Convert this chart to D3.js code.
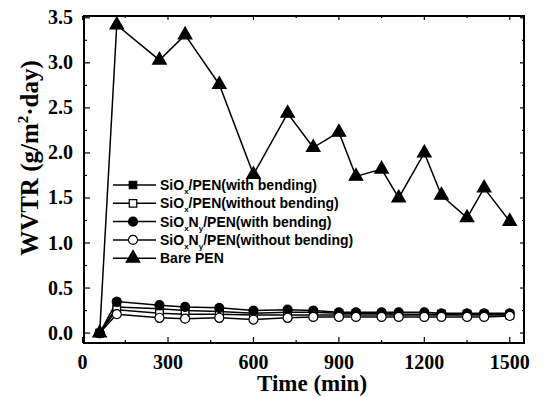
<!DOCTYPE html>
<html>
<head>
<meta charset="utf-8">
<script src="https://cdn.jsdelivr.net/npm/d3@7"></script>
<style>
  body { margin: 0; background: #fff; }
  svg { display: block; }
</style>
</head>
<body>
<div id="chart"></div>
<script>
// time points (min)
var times = [60, 120, 270, 360, 480, 600, 720, 810, 900, 960, 1050, 1110, 1200, 1260, 1350, 1410, 1500];

// WVTR values (g/m2.day)
var sioxBend     = [0, 0.29, 0.27, 0.25, 0.24, 0.22, 0.23, 0.23, 0.22, 0.22, 0.22, 0.21, 0.21, 0.21, 0.21, 0.21, 0.21];
var sioxNoBend   = [0, 0.26, 0.22, 0.21, 0.21, 0.20, 0.20, 0.20, 0.20, 0.20, 0.20, 0.20, 0.20, 0.20, 0.20, 0.20, 0.20];
var sionBend     = [0, 0.35, 0.31, 0.29, 0.28, 0.25, 0.26, 0.25, 0.23, 0.23, 0.23, 0.23, 0.23, 0.22, 0.22, 0.22, 0.22];
var sionNoBend   = [0, 0.21, 0.17, 0.16, 0.17, 0.15, 0.17, 0.18, 0.18, 0.18, 0.18, 0.18, 0.18, 0.18, 0.18, 0.18, 0.19];
var barePen      = [0, 3.42, 3.03, 3.31, 2.76, 1.76, 2.44, 2.06, 2.23, 1.74, 1.82, 1.50, 2.00, 1.53, 1.28, 1.61, 1.24];

var xTicks = [0, 300, 600, 900, 1200, 1500];
var yTicks = [0.0, 0.5, 1.0, 1.5, 2.0, 2.5, 3.0, 3.5];

var series = [
  { name: "SiOx/PEN(with bending)",      values: sioxBend,   sym: d3.symbolSquare,   fill: "#000" },
  { name: "SiOx/PEN(without bending)",   values: sioxNoBend, sym: d3.symbolSquare,   fill: "#fff" },
  { name: "SiOxNy/PEN(with bending)",    values: sionBend,   sym: d3.symbolCircle,   fill: "#000" },
  { name: "SiOxNy/PEN(without bending)", values: sionNoBend, sym: d3.symbolCircle,   fill: "#fff" },
  { name: "Bare PEN",                    values: barePen,    sym: d3.symbolTriangle, fill: "#000" }
];
// legend text pieces: [text, isSub]
var legendParts = [
  [["SiO", 0], ["x", 1], ["/PEN(with bending)", 0]],
  [["SiO", 0], ["x", 1], ["/PEN(without bending)", 0]],
  [["SiO", 0], ["x", 1], ["N", 0], ["y", 1], ["/PEN(with bending)", 0]],
  [["SiO", 0], ["x", 1], ["N", 0], ["y", 1], ["/PEN(without bending)", 0]],
  [["Bare PEN", 0]]
];

var W = 543, H = 397;
// plot box edges (NB: "top" is taken by window.top)
var pLeft = 84, pRight = 524, pTop = 16, pBottom = 343;

var svg = d3.select("#chart").append("svg")
    .attr("width", W).attr("height", H);

var x = d3.scaleLinear().domain([5, 1550]).range([pLeft, pRight]);
var y = d3.scaleLinear().domain([-0.11, 3.52]).range([pBottom, pTop]);

var serif = "'Liberation Serif', 'Times New Roman', serif";
var sans = "'Liberation Sans', Arial, sans-serif";

// ticks (inward), major + minor, mirrored on top/right
var g = svg.append("g").attr("stroke", "#000").attr("stroke-width", 1.2);
d3.range(0, 1501, 150).forEach(function(t) {
  var major = t % 300 === 0;
  g.append("line").attr("x1", x(t)).attr("x2", x(t))
    .attr("y1", pBottom).attr("y2", pBottom - (major ? 6 : 3));
  g.append("line").attr("x1", x(t)).attr("x2", x(t))
    .attr("y1", pTop).attr("y2", pTop + (major ? 4 : 2));
});
d3.range(0, 3.51, 0.25).forEach(function(t) {
  var major = Math.round(t * 100) % 50 === 0;
  g.append("line").attr("y1", y(t)).attr("y2", y(t))
    .attr("x1", pLeft).attr("x2", pLeft + (major ? 6 : 3));
  g.append("line").attr("y1", y(t)).attr("y2", y(t))
    .attr("x1", pRight).attr("x2", pRight - (major ? 4 : 2));
});

// frame
svg.append("rect")
  .attr("x", pLeft).attr("y", pTop)
  .attr("width", pRight - pLeft).attr("height", pBottom - pTop)
  .attr("fill", "none").attr("stroke", "#000").attr("stroke-width", 2);

// tick labels
svg.append("g").selectAll("text").data(xTicks).enter().append("text")
  .attr("x", function(d) { return x(d); })
  .attr("y", 369)
  .attr("text-anchor", "middle")
  .attr("font-family", serif).attr("font-weight", "bold").attr("font-size", 20)
  .text(function(d) { return d; });

svg.append("g").selectAll("text").data(yTicks).enter().append("text")
  .attr("x", 73)
  .attr("y", function(d) { return y(d) + 6.5; })
  .attr("text-anchor", "end")
  .attr("font-family", serif).attr("font-weight", "bold").attr("font-size", 20)
  .text(function(d) { return d.toFixed(1); });

// axis titles
svg.append("text")
  .attr("x", 312).attr("y", 391)
  .attr("text-anchor", "middle")
  .attr("font-family", serif).attr("font-weight", "bold").attr("font-size", 23)
  .text("Time (min)");

var yl = svg.append("text")
  .attr("transform", "translate(38,158) rotate(-90)")
  .attr("text-anchor", "middle")
  .attr("font-family", serif).attr("font-weight", "bold").attr("font-size", 25);
yl.append("tspan").text("WVTR (g/m");
yl.append("tspan").attr("dy", -10).attr("font-size", 15).text("2");
yl.append("tspan").attr("dy", 10).text("\u00b7day)");

// lines
var line = d3.line()
  .x(function(d, i) { return x(times[i]); })
  .y(function(d) { return y(d); });

svg.append("g").selectAll("path").data(series).enter().append("path")
  .attr("d", function(s) { return line(s.values); })
  .attr("fill", "none").attr("stroke", "#000").attr("stroke-width", 1.5);

function symSize(s) {
  return s.sym === d3.symbolTriangle ? 80 : (s.sym === d3.symbolSquare ? 56 : 64);
}

// markers
series.forEach(function(s) {
  svg.append("g").selectAll("path").data(s.values).enter().append("path")
    .attr("d", d3.symbol().type(s.sym).size(symSize(s)))
    .attr("transform", function(d, i) { return "translate(" + x(times[i]) + "," + y(d) + ")"; })
    .attr("fill", s.fill).attr("stroke", "#000").attr("stroke-width", 1.2);
});

// legend
var lg = svg.append("g");
series.forEach(function(s, i) {
  var ly = 185 + i * 18.3;
  lg.append("line").attr("x1", 113).attr("x2", 156).attr("y1", ly).attr("y2", ly)
    .attr("stroke", "#000").attr("stroke-width", 1.5);
  lg.append("path")
    .attr("d", d3.symbol().type(s.sym).size(symSize(s)))
    .attr("transform", "translate(133," + ly + ")")
    .attr("fill", s.fill).attr("stroke", "#000").attr("stroke-width", 1.2);
  var t = lg.append("text")
    .attr("x", 160).attr("y", ly + 5)
    .attr("font-family", sans).attr("font-weight", "bold").attr("font-size", 14);
  var sub = false;
  legendParts[i].forEach(function(p) {
    var ts = t.append("tspan").text(p[0]);
    if (p[1] && !sub) { ts.attr("dy", 4).attr("font-size", 8); sub = true; }
    else if (!p[1] && sub) { ts.attr("dy", -4); sub = false; }
  });
});
</script>
</body>
</html>
